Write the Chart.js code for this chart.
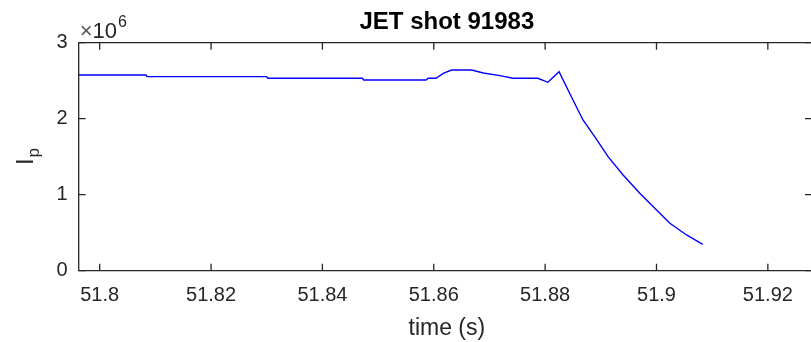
<!DOCTYPE html>
<html>
<head>
<meta charset="utf-8">
<style>
  html, body { margin: 0; padding: 0; background: #ffffff; }
  canvas { display: block; }
</style>
<script src="https://cdn.jsdelivr.net/npm/chart.js@4/dist/chart.umd.min.js"></script>
</head>
<body>
<canvas id="ip" width="811" height="342"></canvas>
<script>
// Plasma current trace, JET shot 91983 (time in s, current in A)
const timeS = [
  51.7962, 51.8083, 51.8085, 51.8300, 51.8302, 51.8472, 51.8474, 51.8586,
  51.8590, 51.8604, 51.8617, 51.8632, 51.8668, 51.8689, 51.8719, 51.8742,
  51.8787, 51.8805, 51.8825, 51.8850, 51.8868, 51.8889, 51.8913, 51.8940,
  51.8970, 51.8997, 51.9024, 51.9054, 51.9083
];
const plasmaCurrent = [
  2.575e6, 2.575e6, 2.553e6, 2.553e6, 2.532e6, 2.532e6, 2.509e6, 2.509e6,
  2.532e6, 2.532e6, 2.597e6, 2.641e6, 2.641e6, 2.602e6, 2.566e6, 2.532e6,
  2.532e6, 2.479e6, 2.618e6, 2.246e6, 1.983e6, 1.763e6, 1.500e6, 1.259e6,
  1.018e6, 0.821e6, 0.624e6, 0.470e6, 0.347e6
];

// Axis ranges and tick marks
const xRange = [51.79623, 51.92775];
const yRange = [0, 3e6];
const xTicks = [51.8, 51.82, 51.84, 51.86, 51.88, 51.9, 51.92];
const xTickLabels = ['51.8', '51.82', '51.84', '51.86', '51.88', '51.9', '51.92'];
const yTicks = [0, 1e6, 2e6, 3e6];
const yTickLabels = ['0', '1', '2', '3'];
const yExponent = '6';

const titleText = 'JET shot 91983';
const xTitle = 'time (s)';
const yTitleMain = 'I';
const yTitleSub = 'p';

const AXIS = '#262626';
const FONT = '"Liberation Sans", Arial, Helvetica, sans-serif';

// Draws the axes frame, inward ticks, labels and titles
const axesBox = {
  id: 'axesBox',
  afterDraw(chart) {
    const ctx = chart.ctx;
    const a = chart.chartArea;
    const xs = chart.scales.x, ys = chart.scales.y;
    const tick = 7;
    ctx.save();
    ctx.strokeStyle = AXIS;
    ctx.lineWidth = 1.3;
    ctx.beginPath();
    // the right-hand edge of the box sits just past the canvas edge
    ctx.moveTo(a.right + 2, a.top); ctx.lineTo(a.left, a.top);
    ctx.lineTo(a.left, a.bottom); ctx.lineTo(a.right + 2, a.bottom);
    ctx.stroke();

    ctx.beginPath();
    xTicks.forEach(v => {
      const px = xs.getPixelForValue(v);
      ctx.moveTo(px, a.bottom); ctx.lineTo(px, a.bottom - tick);
      ctx.moveTo(px, a.top); ctx.lineTo(px, a.top + tick);
    });
    yTicks.forEach(v => {
      const py = ys.getPixelForValue(v);
      ctx.moveTo(a.left, py); ctx.lineTo(a.left + tick, py);
      ctx.moveTo(a.right + 1, py); ctx.lineTo(a.right + 1 - tick, py);
    });
    ctx.stroke();

    ctx.fillStyle = AXIS;
    ctx.font = '20px ' + FONT;
    ctx.textAlign = 'center';
    ctx.textBaseline = 'middle';
    xTicks.forEach((v, i) => {
      ctx.fillText(xTickLabels[i], xs.getPixelForValue(v), a.bottom + 25);
    });
    ctx.textAlign = 'right';
    yTicks.forEach((v, i) => {
      ctx.fillText(yTickLabels[i], a.left - 11, ys.getPixelForValue(v));
    });

    // exponent marker above the y axis
    ctx.textAlign = 'left';
    ctx.textBaseline = 'alphabetic';
    ctx.fillStyle = '#555555';
    ctx.font = '22px ' + FONT;
    ctx.fillText('\u00d7', a.left + 1, a.top - 5);
    const xw = ctx.measureText('\u00d7').width;
    ctx.fillStyle = AXIS;
    ctx.fillText('10', a.left + 1 + xw, a.top - 5);
    const bw = xw + ctx.measureText('10').width;
    ctx.font = '16px ' + FONT;
    ctx.fillText(yExponent, a.left + 2 + bw, a.top - 16);

    // title
    ctx.textAlign = 'center';
    ctx.textBaseline = 'middle';
    ctx.fillStyle = '#000000';
    ctx.font = 'bold 24px ' + FONT;
    ctx.fillText(titleText, (a.left + a.right) / 2 + 2, 22);

    // x axis title
    ctx.fillStyle = AXIS;
    ctx.font = '23px ' + FONT;
    ctx.fillText(xTitle, (a.left + a.right) / 2 + 2, a.bottom + 58);

    // y axis title with subscript
    ctx.save();
    ctx.translate(33, 157);
    ctx.rotate(-Math.PI / 2);
    ctx.textAlign = 'left';
    ctx.textBaseline = 'alphabetic';
    ctx.font = '24px ' + FONT;
    const mw = ctx.measureText(yTitleMain).width;
    ctx.font = '17px ' + FONT;
    const sw = ctx.measureText(yTitleSub).width;
    const start = -(mw + sw) / 2;
    ctx.font = '24px ' + FONT;
    ctx.fillText(yTitleMain, start, 0);
    ctx.font = '17px ' + FONT;
    ctx.fillText(yTitleSub, start + mw + 1, 6);
    ctx.restore();

    ctx.restore();
  }
};

new Chart(document.getElementById('ip'), {
  type: 'line',
  data: {
    datasets: [{
      data: timeS.map((t, i) => ({ x: t, y: plasmaCurrent[i] })),
      borderColor: '#0000ff',
      borderWidth: 1.4,
      pointRadius: 0,
      fill: false,
      tension: 0
    }]
  },
  options: {
    responsive: false,
    devicePixelRatio: 1,
    animation: false,
    layout: { padding: { left: 78.7, top: 42.7, right: 0, bottom: 71.3 } },
    plugins: { legend: { display: false }, tooltip: { enabled: false } },
    scales: {
      x: { type: 'linear', min: xRange[0], max: xRange[1], display: false },
      y: { type: 'linear', min: yRange[0], max: yRange[1], display: false }
    }
  },
  plugins: [axesBox]
});
</script>
</body>
</html>
